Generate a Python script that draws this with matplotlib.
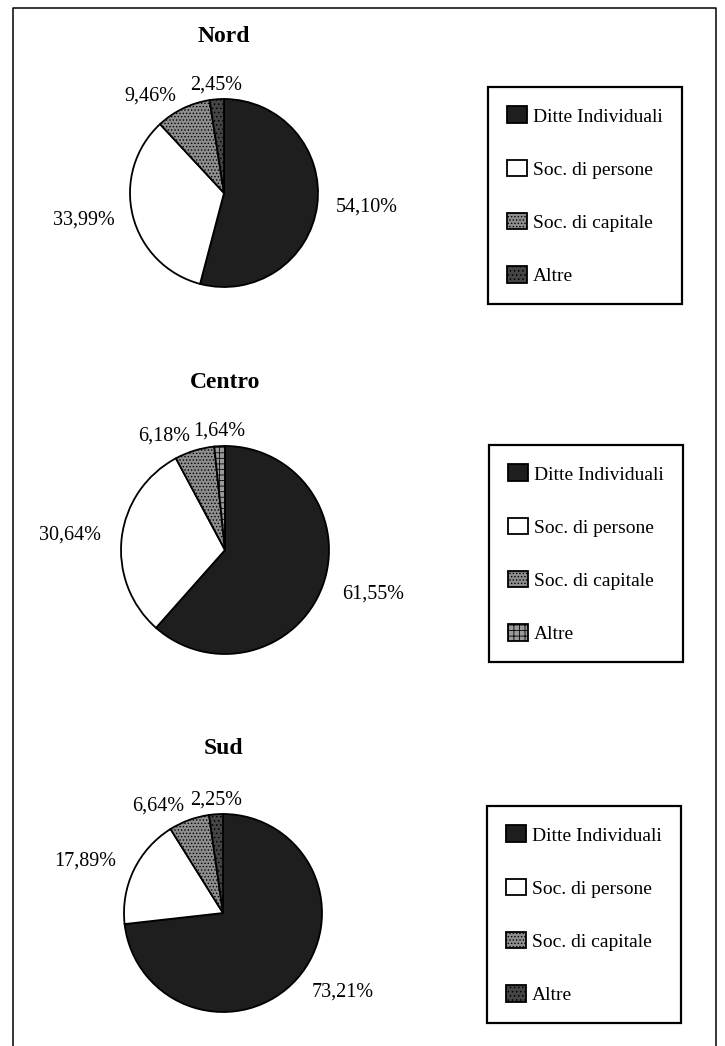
import matplotlib
matplotlib.use('Agg')
import matplotlib.pyplot as plt
from matplotlib.lines import Line2D
import numpy as np

plt.rcParams['font.family'] = ['Liberation Serif', 'DejaVu Serif']
plt.rcParams['hatch.linewidth'] = 0.6

# quote per forma giuridica, per area geografica
categorie = ['Ditte Individuali', 'Soc. di persone', 'Soc. di capitale', 'Altre']
aree = ['Nord', 'Centro', 'Sud']
nord = [54.10, 33.99, 9.46, 2.45]
centro = [61.55, 30.64, 6.18, 1.64]
sud = [73.21, 17.89, 6.64, 2.25]
valori = [nord, centro, sud]

W, H = 725, 1046

# posizioni in pixel: centro torta, raggio, titolo, angolo alto-sinistro legenda
layout = [
    dict(cx=224, cy=193, r=94, ty=37, lx=488, ly=87),
    dict(cx=225, cy=550, r=104, ty=382, lx=489, ly=445),
    dict(cx=223, cy=913, r=99, ty=749, lx=487, ly=806),
]

# stili degli spicchi (riempimento + retino)
stili = [
    dict(facecolor='#1e1e1e', hatch=None),
    dict(facecolor='white', hatch=None),
    dict(facecolor='#8e8e8e', hatch='.....'),
    dict(facecolor='#454545', hatch='....'),
]
altre_centro = dict(facecolor='#9a9a9a', hatch='+++')


def fmt(v):
    return '{:.2f}'.format(v).replace('.', ',') + '%'


fig = plt.figure(figsize=(W / 100, H / 100), dpi=100)

# cornice esterna
fig.add_artist(Line2D([13 / W, 13 / W, 716 / W, 716 / W],
                      [-0.01, 1 - 8 / H, 1 - 8 / H, -0.01],
                      transform=fig.transFigure, color='black', lw=1.1))

for i, (area, vals, lay) in enumerate(zip(aree, valori, layout)):
    cx, cy, r = lay['cx'], lay['cy'], lay['r']
    ax = fig.add_axes([(cx - r) / W, 1 - (cy + r) / H, 2 * r / W, 2 * r / H])
    wedges, _ = ax.pie(vals, startangle=90, counterclock=False,
                       wedgeprops=dict(edgecolor='black', linewidth=1.3))
    for j, w in enumerate(wedges):
        st = altre_centro if (area == 'Centro' and j == 3) else stili[j]
        w.set_facecolor(st['facecolor'])
        if st['hatch']:
            w.set_hatch(st['hatch'])
    ax.set_xlim(-1, 1)
    ax.set_ylim(-1, 1)
    ax.axis('off')

    # etichette percentuali
    for j, (w, v) in enumerate(zip(wedges, vals)):
        ang = np.deg2rad((w.theta1 + w.theta2) / 2)
        if j == 3:
            d, ha, va = 1.05, 'center', 'bottom'
        elif j == 2:
            d, ha, va = 1.15, 'right', 'center'
        else:
            d = 1.2
            ha = 'left' if np.cos(ang) > 0 else 'right'
            va = 'center'
        ax.text(d * np.cos(ang), d * np.sin(ang), fmt(v), ha=ha, va=va,
                fontsize=14.5, clip_on=False)

    fig.text(cx / W, 1 - lay['ty'] / H, area, ha='center', va='center',
             fontsize=17, fontweight='bold')

    leg = fig.legend(wedges, categorie, loc='upper left',
                     bbox_to_anchor=(lay['lx'] / W, 1 - lay['ly'] / H),
                     bbox_transform=fig.transFigure, borderaxespad=0,
                     fontsize=14, frameon=True, fancybox=False, shadow=False,
                     edgecolor='black', framealpha=1, borderpad=1.0,
                     labelspacing=1.75, handlelength=1.0, handleheight=0.95,
                     handletextpad=0.3)
    leg.get_frame().set_linewidth(1.6)

fig.savefig('out.png', dpi=100, facecolor='white')
